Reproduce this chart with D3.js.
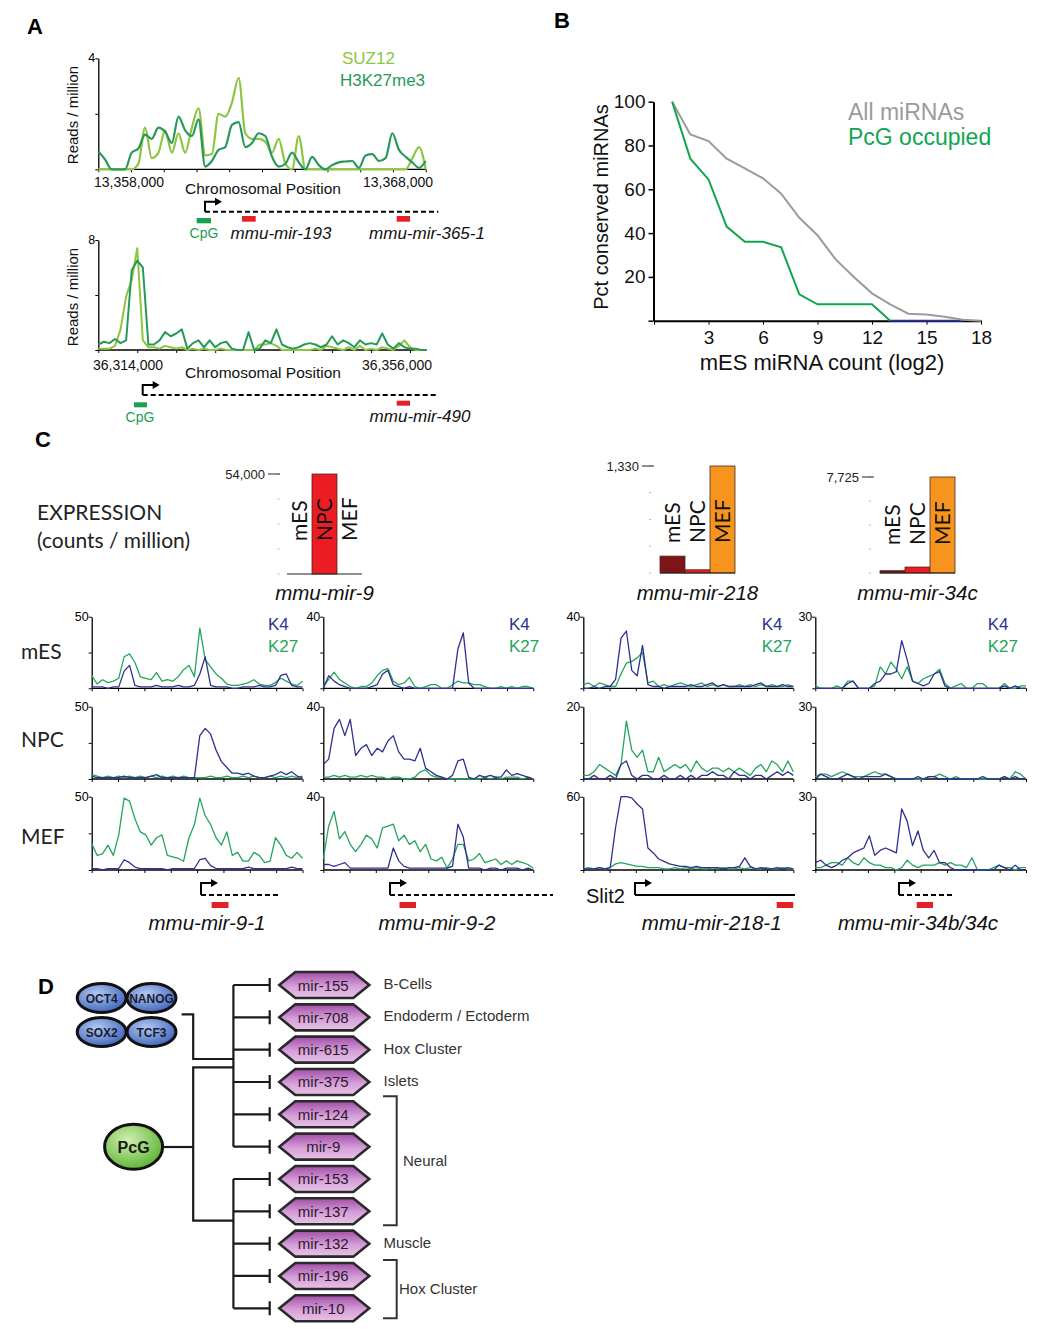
<!DOCTYPE html>
<html>
<head>
<meta charset="utf-8">
<script src="https://cdn.jsdelivr.net/npm/d3@7"></script>
<style>
  body { margin: 0; background: #fff; }
  svg { display: block; font-family: "Liberation Sans", Arial, sans-serif; }
</style>
</head>
<body>
<svg id="fig" width="1050" height="1329"></svg>
<script>
// ---------- panel A : ChIP-seq tracks (reads / million) ----------
const aTopSuz12 = [0,0,0,0,0,0,0.2,1.5,0.4,0.6,1.4,0.6,1.3,0.6,1.5,2.2,0.5,0.55,2.0,1.9,2.4,3.3,1.3,1.1,1.1,1.0,0.6,1.1,0.2,0,1.2,0,0,0,0,0,0,0,0,0,0,0,0,0,0,0,0,0.4,0.8,0];
const aTopK27me3 = [0.64,0.36,0,0,0,0.6,0.75,1.25,1.1,1.5,1.35,0.95,1.9,1.4,1.2,1.8,0.1,0.3,0.7,0.8,1.6,1.7,0.8,0.95,1.3,1.2,0.45,0.1,0.2,0.6,0.25,0,0.45,0.15,0,0.15,0.25,0.28,0.3,0.05,0.5,0.55,0.3,0.4,1.3,0.7,0.45,0.25,0.05,0.3];
const aBotSuz12 = [0.1,0.1,0.1,0.3,1.5,3.9,5.1,7.4,0.7,0.2,0.2,0.1,0.3,0.2,0.1,0.2,0,0.1,0,0.1,0,0,0.1,0,0,0,0,0,0,0.4,0.4,0.5,0.3,0,0,0,0,0,0,0.1,0,0.3,0.2,0.1,0,0.2,0,0.3,0,0.1,0,0.2,0.1,0,0.3,0.7,0.2,0,0,0];
const aBotK27me3 = [0.4,0.6,0.5,0.8,0.5,0.7,5.8,6.5,6,0.4,0.4,0.7,1.3,1,1.2,1.5,0.1,0.5,0.7,0.2,0.7,0.2,0.5,0.6,0.1,0,0,1.3,0,0.1,0.7,0.5,1.5,0.4,0.2,0.1,0.2,0.4,0.5,0.4,0.2,0.4,1,0.4,0.7,0.5,0.2,0.7,0.4,0.5,0.4,1.2,0.4,0.1,0.5,0.2,0.1,0.1,0,0];
const aTopPositions = [13358000, 13368000];
const aBotPositions = [36314000, 36356000];

// ---------- panel B ----------
const bCount = [1,2,3,4,5,6,7,8,9,10,11,12,13,14,15,16,17,18];
const bAll = [100,85,82,74,69.5,65,58,47,39,28,20,12.5,7.5,3.2,2.8,1.8,0.4,0];
const bPcgCount = [1,2,3,4,5,6,7,8,9,10,11,12,13];
const bPcg = [100,74,64.5,43,36,36,33.5,12,7.5,7.5,7.5,7.5,0];
const bTailCount = [13, 17];
const bTail = [0, 0];

// ---------- panel C : expression ----------
const exprSamples = ["mES", "NPC", "MEF"];
const exprColors = ["#7d1518", "#ed1c24", "#f7941d"];
const mir9Expr = [0, 54000, 0];
const mir218Expr = [210, 40, 1330];
const mir34cExpr = [185, 480, 7725];

// ---------- panel C : K4 / K27 tracks ----------
const cRows = ["mES", "NPC", "MEF"];
const cGenes = ["mmu-mir-9-1", "mmu-mir-9-2", "mmu-mir-218-1", "mmu-mir-34b/34c"];
const cMax = [[50,50,50],[40,40,40],[40,20,60],[30,30,30]];

const k4Mir91Mes = [1,1,1,0,1,1,12,16,2,1,1,1,2,1,1,1,2,1,1,2,10,22,2,1,1,1,0,0,1,1,1,2,1,1,2,9,10,2,1,1];
const k27Mir91Mes = [9,3,6,4,5,7,22,24,18,8,7,6,11,5,6,5,8,13,16,8,42,20,15,10,7,3,2,2,3,4,6,3,2,2,4,7,5,3,2,5];
const k4Mir91Npc = [2,1,1,1,1,1,2,1,1,1,1,2,3,1,1,1,1,1,1,1,30,35,31,20,12,8,4,4,3,4,2,1,1,2,3,5,3,5,2,1];
const k27Mir91Npc = [3,2,1,2,1,2,1,2,1,2,1,2,1,2,1,2,1,2,1,1,1,1,2,1,1,2,1,1,2,1,2,1,1,2,1,2,1,2,1,2];
const k4Mir91Mef = [1,1,0,1,1,1,7,5,2,1,1,1,1,1,0,1,1,1,1,1,7,8,3,1,1,1,1,1,1,2,1,1,1,1,1,1,1,2,1,1];
const k27Mir91Mef = [18,10,11,17,10,24,49,47,35,26,24,17,22,24,10,9,8,6,22,31,49,37,31,22,17,26,10,12,6,6,12,10,5,6,22,17,10,8,12,8];

const k4Mir92Mes = [0,7,4,2,1,0,0,0,0,1,2,8,10,2,1,0,1,0,0,0,0,0,0,0,0,22,31,3,0,0,0,0,0,0,0,0,0,0,0,0];
const k27Mir92Mes = [1,5,9,5,3,1,0,1,1,3,7,10,11,4,2,3,6,1,0,1,2,2,0,0,2,4,3,3,2,2,1,0,0,1,0,1,0,1,1,0];
const k4Mir92Npc = [8,11,28,33,24,33,13,17,19,13,17,15,21,24,15,11,11,10,17,6,4,2,1,0,2,10,11,1,0,2,1,2,1,1,5,2,3,2,1,0];
const k27Mir92Npc = [1,1,2,1,2,1,1,2,1,2,1,1,0,1,1,0,0,1,4,5,2,1,1,0,0,0,0,0,0,0,1,0,1,0,1,1,1,0,1,0];
const k4Mir92Mef = [3,3,2,3,4,1,1,1,1,1,1,1,1,12,5,2,1,1,1,1,1,1,1,1,2,25,18,1,1,1,0,1,1,0,1,1,1,0,1,0];
const k27Mir92Mef = [6,24,32,17,21,14,10,14,19,17,12,23,24,25,16,19,14,16,10,14,6,5,7,1,6,14,14,5,6,9,4,5,6,3,5,3,5,4,3,1];

const k4Mir218Mes = [0,0,1,0,1,1,5,28,32,10,7,24,2,1,1,0,1,1,1,1,2,1,1,2,3,1,2,1,1,1,1,1,2,3,1,1,1,2,1,1];
const k27Mir218Mes = [2,3,1,3,2,1,1,8,14,15,17,20,3,4,1,2,1,2,3,2,1,2,3,1,2,1,2,1,1,2,1,2,1,2,1,2,1,1,2,1];
const k4Mir218Npc = [0,0,1,0,0,1,0,4,5,1,0,1,1,0,0,1,0,0,1,0,1,0,1,1,2,1,1,0,2,1,1,0,1,1,0,1,2,1,2,1];
const k27Mir218Npc = [1,1,2,4,3,2,1,4,16,8,6,8,2,2,6,2,3,4,3,4,2,5,3,2,3,3,2,3,2,3,2,1,3,4,2,5,4,2,5,2];
const k4Mir218Mef = [1,1,1,2,1,2,35,60,60,59,54,50,18,14,9,7,5,4,3,3,2,3,2,2,2,2,1,2,2,3,10,3,1,2,1,1,2,1,2,1];
const k27Mir218Mef = [1,2,1,2,1,2,5,6,5,4,3,3,2,2,2,1,1,2,1,2,1,2,1,1,2,1,2,1,1,2,1,2,1,1,2,1,1,2,1,1];

const k4Mir34Mes = [0,0,0,0,0,0,2,3,0,0,0,2,3,6,6,7,20,12,3,2,1,2,6,7,1,0,0,0,0,0,0,0,0,0,0,1,0,1,0,0];
const k27Mir34Mes = [1,0,0,0,1,0,3,3,0,0,0,1,9,6,11,8,4,9,3,2,4,5,6,8,2,0,1,2,0,0,2,2,0,0,0,2,0,0,1,1];
const k4Mir34Npc = [0,2,1,0,0,1,2,1,0,1,1,1,1,2,1,0,0,0,0,1,0,1,1,0,0,0,0,0,0,0,0,1,0,0,0,1,0,1,0,0];
const k27Mir34Npc = [1,2,2,1,2,3,2,1,1,1,2,3,2,2,1,0,0,0,0,0,0,1,1,2,1,0,1,0,0,0,0,0,0,0,0,1,0,3,2,0];
const k4Mir34Mef = [3,4,2,1,2,4,5,7,8,9,14,6,8,9,8,7,25,20,10,16,8,5,8,3,3,1,0,0,0,0,0,0,0,0,2,1,0,2,0,0];
const k27Mir34Mef = [1,1,2,3,3,2,5,3,2,5,3,2,2,1,1,0,1,4,2,1,2,2,2,3,2,3,2,2,1,5,0,0,0,1,2,1,1,0,1,1];

// ---------- panel D ----------
const dTFs = ["OCT4", "NANOG", "SOX2", "TCF3"];
const dMirs = ["mir-155","mir-708","mir-615","mir-375","mir-124","mir-9","mir-153","mir-137","mir-132","mir-196","mir-10"];
const dTargetsTF = ["mir-155","mir-708","mir-615","mir-375","mir-124","mir-9"];
const dTargetsPcG = ["mir-153","mir-137","mir-132","mir-196","mir-10"];
const dTissues = [["B-Cells","mir-155"],["Endoderm / Ectoderm","mir-708"],["Hox Cluster","mir-615"],["Islets","mir-375"],["Muscle","mir-132"]];
const dBrackets = [["Neural","mir-124","mir-137"],["Hox Cluster","mir-196","mir-10"]];

// =====================================================================
const svg = d3.select("#fig");
svg.append("rect").attr("width", 1050).attr("height", 1329).attr("fill", "#fff");
const defs = svg.append("defs");
const humanist = "Lato, 'Open Sans', sans-serif";
const K4 = "#2e3192", K27 = "#23a55e";
const SUZ = "#8cc63f", H3 = "#28995a";

function panelLabel(t, x, y) {
    svg.append("text").attr("x", x).attr("y", y)
        .attr("font-size", 22).attr("font-weight", "bold").text(t);
}
panelLabel("A", 27, 34);
panelLabel("B", 554, 28);
panelLabel("C", 35, 447);
panelLabel("D", 38, 994);

// generic signal track
function track(o) {
    const g = svg.append("g");
    const y = d3.scaleLinear().domain([0, o.max]).range([o.base, o.top]).clamp(true);
    const xt = d3.scaleLinear().domain([0, o.nTicks - 1]).range([o.x0, o.tickEnd || o.x1]);
    g.append("g").attr("transform", `translate(0,${o.base})`)
        .call(d3.axisBottom(xt).tickValues(d3.range(o.nTicks)).tickSize(3).tickFormat(""))
        .call(a => a.select(".domain").remove());
    g.append("line").attr("x1", o.x0).attr("x2", o.x1).attr("y1", o.base).attr("y2", o.base)
        .attr("stroke", "#000").attr("stroke-width", 1.3);
    g.append("g").attr("transform", `translate(${o.x0},0)`)
        .call(d3.axisLeft(y).tickValues([0, o.max / 2, o.max]).tickSize(3).tickSizeOuter(0).tickFormat(""))
        .call(a => a.select(".domain").attr("stroke-width", 1.3));
    g.append("text").attr("x", o.x0 - 3).attr("y", o.top + 4).attr("text-anchor", "end")
        .attr("font-size", 12.5).text(o.max);

    o.series.forEach(s => {
        const x = d3.scaleLinear().domain([0, s.values.length - 1]).range([o.x0, o.x1]);
        g.append("path").datum(s.values)
            .attr("fill", "none").attr("stroke", s.color).attr("stroke-width", o.lw)
            .attr("stroke-linejoin", "round")
            .attr("d", d3.line().x((d, i) => x(i)).y(d => y(d)).curve(o.curve || d3.curveLinear));
    });
    return g;
}

function promoterArrow(x, y, h) {
    svg.append("path").attr("d", `M${x},${y}V${y - h}H${x + 11}`)
        .attr("fill", "none").attr("stroke", "#000").attr("stroke-width", 2);
    svg.append("path").attr("d", `M${x + 10},${y - h - 4}L${x + 17},${y - h}L${x + 10},${y - h + 4}Z`)
        .attr("fill", "#000");
}
function dashed(x1, x2, y) {
    svg.append("line").attr("x1", x1).attr("x2", x2).attr("y1", y).attr("y2", y)
        .attr("stroke", "#000").attr("stroke-width", 2).attr("stroke-dasharray", "5,3");
}
function box(x1, x2, y, h, c) {
    svg.append("rect").attr("x", x1).attr("y", y).attr("width", x2 - x1).attr("height", h).attr("fill", c);
}
function label(t, x, y, size, opts = {}) {
    return svg.append("text").attr("x", x).attr("y", y).attr("font-size", size)
        .attr("text-anchor", opts.anchor || "start")
        .attr("font-style", opts.italic ? "italic" : null)
        .attr("font-family", opts.family || null)
        .attr("fill", opts.color || "#111").text(t);
}

// ------------------------------ A --------------------------------
track({ x0: 98.3, x1: 425.7, top: 58.3, base: 169.3, max: 4, nTicks: 11, lw: 2.2,
    curve: d3.curveMonotoneX,
    series: [{ values: aTopSuz12, color: SUZ }, { values: aTopK27me3, color: H3 }] });
track({ x0: 98.3, x1: 426.7, top: 240, base: 350, max: 8, nTicks: 9, tickEnd: 410, lw: 2,
    series: [{ values: aBotSuz12, color: SUZ }, { values: aBotK27me3, color: H3 }] });

const aTopX = d3.scaleLinear().domain(aTopPositions).range([129, 398]);
const aBotX = d3.scaleLinear().domain(aBotPositions).range([128, 397]);
aTopPositions.forEach(p => label(d3.format(",")(p), aTopX(p), 186.5, 14, { anchor: "middle" }));
aBotPositions.forEach(p => label(d3.format(",")(p), aBotX(p), 369.5, 14, { anchor: "middle" }));
label("Chromosomal Position", 263, 194, 15.5, { anchor: "middle" });
label("Chromosomal Position", 263, 377.5, 15.5, { anchor: "middle" });
[115, 297].forEach(cy => {
    svg.append("text").attr("transform", `translate(78,${cy}) rotate(-90)`)
        .attr("text-anchor", "middle").attr("font-size", 15).attr("fill", "#111").text("Reads / million");
});
label("SUZ12", 342, 64, 17, { color: SUZ });
label("H3K27me3", 340, 86, 17, { color: H3 });

// gene models A
promoterArrow(205, 211.7, 10);
dashed(205, 438.3, 211.7);
box(196.7, 211, 218, 5.3, "#1aa150");
box(242, 255.7, 216, 5.7, "#e32227");
box(396.7, 410, 216, 5.7, "#e32227");
label("CpG", 204, 238, 14, { anchor: "middle", color: "#1aa150" });
label("mmu-mir-193", 281, 239, 17, { anchor: "middle", italic: true });
label("mmu-mir-365-1", 427, 239, 17, { anchor: "middle", italic: true });

promoterArrow(142.7, 395, 10);
dashed(142.7, 438.3, 395);
box(134, 147, 402.3, 5, "#1aa150");
box(396.7, 410, 400.7, 5, "#e32227");
label("CpG", 140, 421.5, 14, { anchor: "middle", color: "#1aa150" });
label("mmu-mir-490", 420, 422, 17, { anchor: "middle", italic: true });

// ------------------------------ B --------------------------------
const bx = d3.scaleLinear().domain([0, 18]).range([654, 981]);
const by = d3.scaleLinear().domain([0, 100]).range([320.7, 101.7]);
const gB = svg.append("g");
gB.append("g").attr("transform", "translate(0,320.7)")
    .call(d3.axisBottom(bx).tickValues(d3.range(0, 19, 3)).tickSize(4).tickSizeOuter(0).tickPadding(6)
        .tickFormat(d => d === 0 ? "" : d))
    .call(a => a.selectAll("text").attr("font-size", 19).attr("fill", "#111"))
    .call(a => a.select(".domain").attr("stroke-width", 2));
gB.append("g").attr("transform", "translate(653.5,0)")
    .call(d3.axisLeft(by).tickValues([0, 20, 40, 60, 80, 100]).tickSize(5).tickSizeOuter(0).tickPadding(3)
        .tickFormat(d => d === 0 ? "" : d))
    .call(a => a.selectAll("text").attr("font-size", 19).attr("fill", "#111"))
    .call(a => a.select(".domain").attr("stroke-width", 2))
    .call(a => a.selectAll(".tick line").attr("stroke-width", 1.5));
const bLine = d3.line().x(d => bx(d[0])).y(d => by(d[1]));
gB.append("path").datum(d3.zip(bTailCount, bTail)).attr("fill", "none")
    .attr("stroke", K4).attr("stroke-width", 2).attr("d", bLine);
gB.append("path").datum(d3.zip(bCount, bAll)).attr("fill", "none")
    .attr("stroke", "#9b9b9b").attr("stroke-width", 2).attr("d", bLine);
gB.append("path").datum(d3.zip(bPcgCount, bPcg)).attr("fill", "none")
    .attr("stroke", "#10a650").attr("stroke-width", 2).attr("d", bLine);
svg.append("text").attr("transform", "translate(608,207) rotate(-90)")
    .attr("text-anchor", "middle").attr("font-size", 20).attr("fill", "#111").text("Pct conserved miRNAs");
label("mES miRNA count (log2)", 822, 369.5, 22, { anchor: "middle" });
label("All miRNAs", 848, 120, 23, { color: "#9b9b9b" });
label("PcG occupied", 848, 145, 23, { color: "#10a650" });

// ------------------------------ C : expression -------------------
label("EXPRESSION", 37, 520, 21, { family: humanist, color: "#222" });
label("(counts / million)", 37, 548, 21, { family: humanist, color: "#222" });

function exprBars(values, o) {
    const x = d3.scaleBand().domain(exprSamples).range([o.x0, o.x0 + 75]);
    const y = d3.scaleLinear().domain([0, d3.max(values)]).range([o.base, o.top]);
    const g = svg.append("g");
    // faint axis ticks
    g.selectAll("line.f").data(d3.range(0, 5)).join("line")
        .attr("x1", o.axisX - 1).attr("x2", o.axisX + 1)
        .attr("y1", d => o.base - d * (o.base - o.top) / 4).attr("y2", d => o.base - d * (o.base - o.top) / 4)
        .attr("stroke", "#bbb").attr("stroke-width", 1);
    g.selectAll("rect").data(values.map((v, i) => ({ v, s: exprSamples[i], c: exprColors[i] })).filter(d => d.v > 0))
        .join("rect")
        .attr("x", d => x(d.s)).attr("width", x.bandwidth())
        .attr("y", d => y(d.v)).attr("height", d => o.base - y(d.v))
        .attr("fill", d => d.c).attr("stroke", "#4a2a1a").attr("stroke-width", 0.8);
    g.append("line").attr("x1", o.x0).attr("x2", o.x0 + 75).attr("y1", o.base).attr("y2", o.base)
        .attr("stroke", "#222").attr("stroke-width", 1.2);
    g.append("line").attr("x1", o.tickX).attr("x2", o.tickX + 12).attr("y1", o.top).attr("y2", o.top)
        .attr("stroke", "#222").attr("stroke-width", 1);
    g.append("text").attr("x", o.tickX - 3).attr("y", o.top + 4.5).attr("text-anchor", "end")
        .attr("font-size", 13).attr("fill", "#222").text(d3.format(",")(d3.max(values)));
    exprSamples.forEach(s => {
        g.append("text").attr("transform", `translate(${x(s) + x.bandwidth() / 2 + 7.5},${o.labelY}) rotate(-90)`)
            .attr("font-size", 21).attr("font-family", humanist).attr("fill", "#111").text(s);
    });
    label(o.name, o.x0 + 37.5, 600, 20.5, { anchor: "middle", italic: true });
}
exprBars(mir9Expr, { x0: 287, base: 574, top: 474, tickX: 268, axisX: 278.5, labelY: 541, name: "mmu-mir-9" });
exprBars(mir218Expr, { x0: 660, base: 573, top: 466, tickX: 642, axisX: 650, labelY: 543, name: "mmu-mir-218" });
exprBars(mir34cExpr, { x0: 880, base: 573, top: 477, tickX: 862, axisX: 870, labelY: 545, name: "mmu-mir-34c" });

// ------------------------------ C : tracks -----------------------
const cK4 = [[k4Mir91Mes, k4Mir91Npc, k4Mir91Mef], [k4Mir92Mes, k4Mir92Npc, k4Mir92Mef],
             [k4Mir218Mes, k4Mir218Npc, k4Mir218Mef], [k4Mir34Mes, k4Mir34Npc, k4Mir34Mef]];
const cK27 = [[k27Mir91Mes, k27Mir91Npc, k27Mir91Mef], [k27Mir92Mes, k27Mir92Npc, k27Mir92Mef],
              [k27Mir218Mes, k27Mir218Npc, k27Mir218Mef], [k27Mir34Mes, k27Mir34Npc, k27Mir34Mef]];
const colX0 = [91.7, 323.3, 583.3, 815.3];
const colX1 = [302.5, 533.3, 793.3, 1026];
const rowTop = [616.7, 706.7, 796.7];
const rowBase = [688.3, 779, 870];

cGenes.forEach((gname, c) => {
    cRows.forEach((r, ri) => {
        track({ x0: colX0[c], x1: colX1[c], top: rowTop[ri], base: rowBase[ri], max: cMax[c][ri],
            nTicks: 9, lw: 1.3,
            series: [{ values: cK27[c][ri], color: K27 }, { values: cK4[c][ri], color: K4 }] });
    });
});
[268, 509, 761.7, 987.7].forEach(x => {
    label("K4", x, 630, 17, { color: K4 });
    label("K27", x, 652, 17, { color: K27 });
});
[["mES", 659], ["NPC", 747], ["MEF", 844]].forEach(([t, y]) => label(t, 21, y, 21, { family: humanist, color: "#222" }));

// gene models C
promoterArrow(201, 895, 12);
dashed(201, 278.5, 895);
box(211.6, 228.5, 902, 6, "#e32227");
promoterArrow(390, 895, 12);
dashed(390, 553, 895);
box(399.5, 416, 902, 6, "#e32227");
promoterArrow(635, 895, 12);
svg.append("line").attr("x1", 635).attr("x2", 795).attr("y1", 895).attr("y2", 895)
    .attr("stroke", "#000").attr("stroke-width", 2);
box(776.7, 793.3, 902, 6, "#e32227");
label("Slit2", 586, 903, 20);
promoterArrow(899, 895, 12);
dashed(899, 952, 895);
box(916.7, 933, 902, 6, "#e32227");
[207, 437, 711.7, 918].forEach((x, i) => label(cGenes[i], x, 930, 20.5, { anchor: "middle", italic: true }));

// ------------------------------ D --------------------------------
const gradBlue = defs.append("radialGradient").attr("id", "gBlue").attr("cx", "40%").attr("cy", "35%").attr("r", "70%");
gradBlue.append("stop").attr("offset", "0%").attr("stop-color", "#b3c9f2");
gradBlue.append("stop").attr("offset", "100%").attr("stop-color", "#3a62b8");
const gradGreen = defs.append("radialGradient").attr("id", "gGreen").attr("cx", "40%").attr("cy", "35%").attr("r", "70%");
gradGreen.append("stop").attr("offset", "0%").attr("stop-color", "#d2efb0");
gradGreen.append("stop").attr("offset", "100%").attr("stop-color", "#58b232");
const gradPurple = defs.append("linearGradient").attr("id", "gPurple").attr("x1", 0).attr("x2", 0).attr("y1", 0).attr("y2", 1);
gradPurple.append("stop").attr("offset", "0%").attr("stop-color", "#a14ea7");
gradPurple.append("stop").attr("offset", "55%").attr("stop-color", "#d69fd8");
gradPurple.append("stop").attr("offset", "100%").attr("stop-color", "#e7c3e7");

const dy = d3.scalePoint().domain(dMirs).range([985, 1308.3]);
const tfX = d3.scalePoint().domain([0, 1]).range([101.7, 151.5]);
const tfY = d3.scalePoint().domain([0, 1]).range([998, 1032]);
const gD = svg.append("g");

// connectors
const lineStyle = sel => sel.attr("fill", "none").attr("stroke", "#1a1a1a").attr("stroke-width", 2.2);
gD.append("path").attr("d", "M181.6,1014.3H193.2V1059H233.4").call(lineStyle);
gD.append("path").attr("d", "M233.4,1067.3H193.2V1220.7H233.4").call(lineStyle);
gD.append("path").attr("d", "M164,1147H193.2").call(lineStyle);
gD.append("line").attr("x1", 233.4).attr("x2", 233.4)
    .attr("y1", dy(dTargetsTF[0])).attr("y2", dy(dTargetsTF[dTargetsTF.length - 1])).call(lineStyle);
gD.append("line").attr("x1", 233.4).attr("x2", 233.4)
    .attr("y1", dy(dTargetsPcG[0])).attr("y2", dy(dTargetsPcG[dTargetsPcG.length - 1])).call(lineStyle);
dMirs.forEach(m => {
    gD.append("path").attr("d", `M233.4,${dy(m)}H269.7M269.7,${dy(m) - 7}V${dy(m) + 7}`).call(lineStyle);
});

// TF ovals
dTFs.forEach((t, i) => {
    const cx = tfX(i % 2), cy = tfY(Math.floor(i / 2));
    gD.append("ellipse").attr("cx", cx).attr("cy", cy).attr("rx", 24.5).attr("ry", 14.5)
        .attr("fill", "url(#gBlue)").attr("stroke", "#111").attr("stroke-width", 3);
});
dTFs.forEach((t, i) => {
    gD.append("text").attr("x", tfX(i % 2)).attr("y", tfY(Math.floor(i / 2)) + 4.5)
        .attr("text-anchor", "middle").attr("font-size", 12).attr("font-weight", "bold")
        .attr("fill", "#1b1b33").text(t);
});
gD.append("ellipse").attr("cx", 133.6).attr("cy", 1146.7).attr("rx", 29).attr("ry", 22.5)
    .attr("fill", "url(#gGreen)").attr("stroke", "#111").attr("stroke-width", 3);
gD.append("text").attr("x", 133.6).attr("y", 1152.5).attr("text-anchor", "middle")
    .attr("font-size", 16).attr("font-weight", "bold").attr("fill", "#1a1a1a").text("PcG");

// miRNA hexagons
const hx = 324.3;
dMirs.forEach(m => {
    const cy = dy(m);
    const pts = [[hx - 45, cy], [hx - 29, cy - 13], [hx + 29, cy - 13], [hx + 45, cy], [hx + 29, cy + 13], [hx - 29, cy + 13]];
    gD.append("polygon").attr("points", pts.map(p => p.join(",")).join(" "))
        .attr("fill", "url(#gPurple)").attr("stroke", "#2a2a2a").attr("stroke-width", 2.6);
    gD.append("text").attr("x", hx - 1).attr("y", cy + 5.5).attr("text-anchor", "middle")
        .attr("font-size", 15).attr("fill", "#2a1a2a").text(m);
});

// tissue labels and brackets
dTissues.forEach(([t, m]) => label(t, 383.6, dy(m) + 4, 15, { color: "#333" }));
dBrackets.forEach(([t, a, b], i) => {
    const y1 = dy(a) - (i === 0 ? 18 : 16), y2 = dy(b) + (i === 0 ? 14 : 10);
    gD.append("path").attr("d", `M383,${y1}H396.7V${y2}H383`)
        .attr("fill", "none").attr("stroke", "#333").attr("stroke-width", 2);
    label(t, i === 0 ? 403 : 399, (y1 + y2) / 2 + 5, 15, { color: "#333" });
});
</script>
</body>
</html>
